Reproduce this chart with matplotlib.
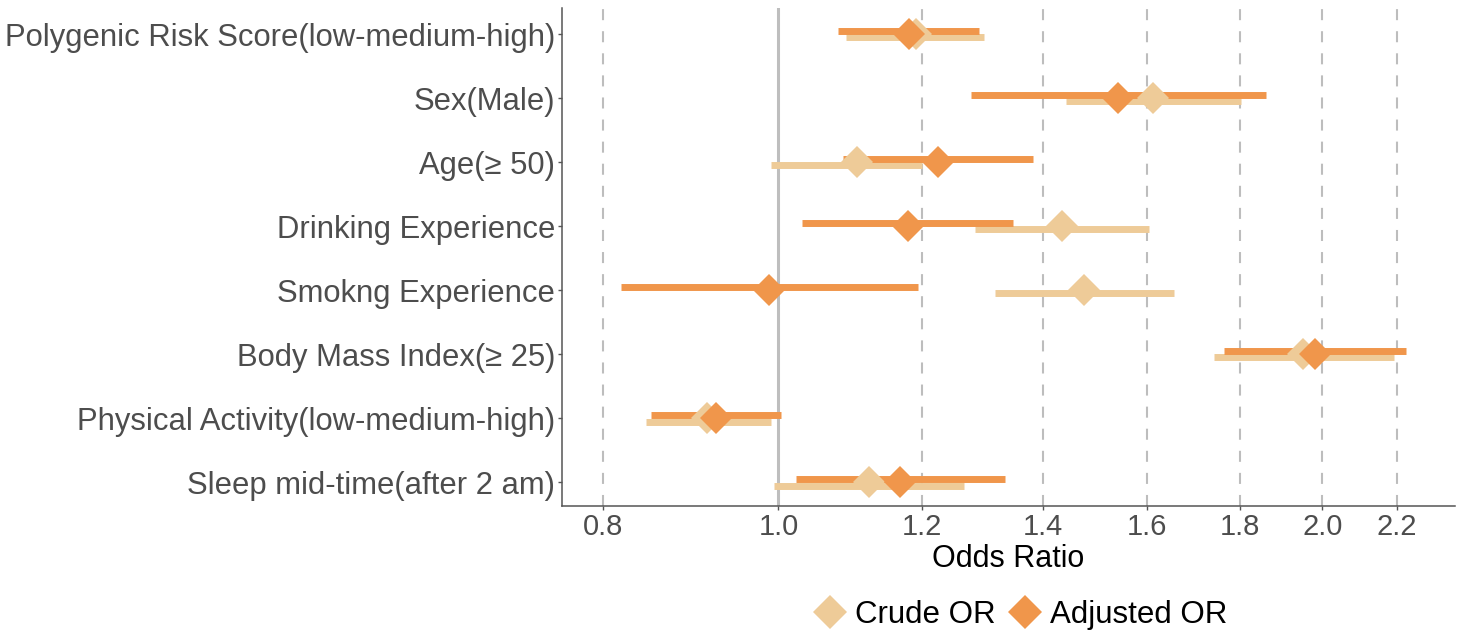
import numpy as np
import matplotlib
matplotlib.use('Agg')
import matplotlib.pyplot as plt
from matplotlib.lines import Line2D
from matplotlib.ticker import FixedLocator, NullLocator

plt.rcParams['font.family'] = ['Liberation Sans', 'DejaVu Sans']

# data
labels = ['Polygenic Risk Score(low-medium-high)', 'Sex(Male)', 'Age(\u2265 50)',
          'Drinking Experience', 'Smokng Experience', 'Body Mass Index(\u2265 25)',
          'Physical Activity(low-medium-high)', 'Sleep mid-time(after 2 am)']

crude_or = [1.192, 1.612, 1.106, 1.436, 1.476, 1.952, 0.913, 1.122]
crude_lo = [1.090, 1.443, 0.991, 1.285, 1.317, 1.742, 0.845, 0.995]
crude_hi = [1.300, 1.803, 1.200, 1.604, 1.656, 2.192, 0.991, 1.266]

adj_or = [1.181, 1.542, 1.225, 1.179, 0.988, 1.981, 0.923, 1.168]
adj_lo = [1.079, 1.278, 1.086, 1.031, 0.818, 1.764, 0.850, 1.023]
adj_hi = [1.292, 1.861, 1.384, 1.349, 1.194, 2.225, 1.003, 1.334]

xticks = [0.8, 1.0, 1.2, 1.4, 1.6, 1.8, 2.0, 2.2]

c_crude = '#EECB98'
c_adj = '#F0964B'
grey_txt = '#4D4D4D'

W, H = 1467, 633
fig = plt.figure(figsize=(W / 100, H / 100), dpi=100)
ax = fig.add_axes([562 / W, 1 - 506 / H, (1455 - 562) / W, (506 - 8) / H])

n = len(labels)
y = np.arange(n, 0, -1)
off = 0.05

# reference lines
for t in xticks:
    if t == 1.0:
        ax.axvline(t, color='#BEBEBE', lw=2.2, zorder=1)
    else:
        ax.axvline(t, color='#BDBDBD', lw=1.5, linestyle=(0, (5.3, 5.3)), zorder=1)

# intervals first, then the points
ax.hlines(y - off, crude_lo, crude_hi, color=c_crude, lw=5, capstyle='butt', zorder=2)
ax.hlines(y + off, adj_lo, adj_hi, color=c_adj, lw=5, capstyle='butt', zorder=3)
ax.plot(crude_or, y, 'D', color=c_crude, ms=16, mew=0, zorder=4)
ax.plot(adj_or, y, 'D', color=c_adj, ms=16, mew=0, zorder=5)

ax.set_xscale('log')
ax.set_xlim(0.759, 2.368)
ax.set_ylim(0.63, 8.41)
ax.xaxis.set_major_locator(FixedLocator(xticks))
ax.xaxis.set_minor_locator(NullLocator())
ax.set_xticklabels(['%.1f' % t for t in xticks])
ax.set_yticks(y)
ax.set_yticklabels(labels)

ax.tick_params(axis='both', colors='#555555', length=3, width=1, labelcolor=grey_txt)
ax.tick_params(axis='x', labelsize=21, pad=2)
ax.tick_params(axis='y', labelsize=22.3, pad=2)
for s in ['top', 'right']:
    ax.spines[s].set_visible(False)
for s in ['left', 'bottom']:
    ax.spines[s].set_color('#555555')
    ax.spines[s].set_linewidth(1.1)

ax.set_xlabel('Odds Ratio', fontsize=22, color='black', labelpad=2)

handles = [Line2D([], [], marker='D', ls='none', color=c_crude, ms=17.5, mew=0),
           Line2D([], [], marker='D', ls='none', color=c_adj, ms=17.5, mew=0)]
fig.legend(handles, ['Crude OR', 'Adjusted OR'], ncol=2, frameon=False,
           loc='center', bbox_to_anchor=(1019 / W, 1 - 615 / H), fontsize=22.5,
           handletextpad=0.2, columnspacing=0.35, handlelength=1.2)

fig.savefig('out.png', dpi=100)
